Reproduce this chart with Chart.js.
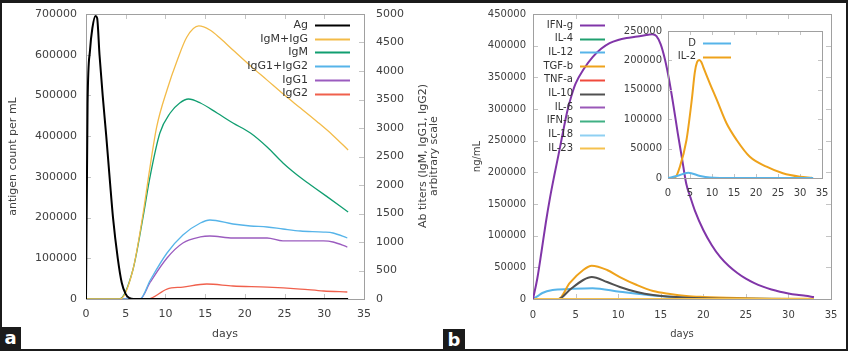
<!DOCTYPE html>
<html>
<head>
<meta charset="utf-8">
<script src="https://cdn.jsdelivr.net/npm/chart.js@4.4.1/dist/chart.umd.min.js"></script>
<style>
  body{margin:0;background:#fff}
  #fig{position:relative;width:848px;height:351px;overflow:hidden;background:#fff}
  #fig canvas{position:absolute}
  #frame{position:absolute;left:0;top:0;right:0;bottom:0;border:2px solid #1b1b1b;border-top-width:3px;pointer-events:none}
  .tag{position:absolute;background:#1b1b1b;color:#fff;font:bold 18px "DejaVu Sans",sans-serif;text-align:center}
</style>
</head>
<body>
<div id="fig">
  <canvas id="chartA" width="440" height="351" style="left:0;top:0"></canvas>
  <canvas id="chartB" width="408" height="351" style="left:440px;top:0"></canvas>
  <canvas id="chartInset" width="240" height="200" style="left:600px;top:20px"></canvas>
  <div class="tag" style="left:0;top:327px;width:21px;height:24px;line-height:22px">a</div>
  <div class="tag" style="left:443px;top:329px;width:22px;height:22px;line-height:21px">b</div>
  <div id="frame"></div>
</div>
<script>
// ---- panel a: antigen and antibody titers ----
const agDays   = [0, 0.2, 0.5, 0.8, 1.2, 1.4, 1.7, 2.1, 2.55, 3.0, 3.4, 4.0, 4.5, 5.0, 5.5, 6, 33];
const agCount  = [0, 480000, 610000, 665000, 695000, 690000, 600000, 500000, 400000, 292000, 200000, 100000, 40000, 12000, 2000, 0, 0];

const igmIggDays = [0, 4.3, 5.9, 7.2, 7.9, 8.9, 10.2, 11.5, 12.7, 14.2, 15.6, 17.0, 18.5, 20.7, 22.8, 24.8, 27.0, 29.1, 31.1, 33.0];
const igmIgg     = [0, 0, 509, 1509, 2170, 3018, 3667, 4193, 4596, 4790, 4719, 4560, 4368, 4090, 3840, 3600, 3350, 3110, 2870, 2614];

const igmDays = [0, 4.2, 5.9, 7.2, 8.0, 9.3, 10.6, 11.8, 12.9, 14.4, 16.5, 18.5, 20.7, 22.8, 24.8, 26.0, 27.0, 28.2, 30.3, 33.0];
const igm     = [0, 0, 509, 1450, 2100, 2912, 3263, 3439, 3509, 3439, 3263, 3088, 2912, 2667, 2386, 2240, 2130, 2010, 1800, 1526];

const iggDays = [0, 6.8, 8.1, 10.2, 12.2, 14.4, 15.6, 18.5, 20.7, 22.8, 24.8, 27.0, 29.9, 31.1, 32.9];
const igg     = [0, 0, 333, 807, 1123, 1333, 1386, 1316, 1281, 1263, 1228, 1193, 1175, 1158, 1070];

const igg1Days = [0, 6.8, 8.1, 10.2, 12.2, 14.4, 15.6, 18.5, 22.8, 24.8, 27.0, 29.9, 31.1, 32.9];
const igg1     = [0, 0, 298, 719, 982, 1088, 1105, 1070, 1070, 1018, 1018, 1018, 1000, 912];

const igg2Days = [0, 7.8, 10.2, 12.2, 15.2, 18.5, 22.8, 27.0, 29.9, 32.9];
const igg2     = [0, 0, 175, 210, 263, 228, 210, 175, 140, 123];

// ---- panel b: cytokines ----
const ifngDays = [0, 0.5, 1, 1.5, 2, 2.5, 3, 3.5, 4, 4.5, 5, 6, 7, 8, 9, 10, 11, 12, 13, 14,
                  14.5, 15, 15.5, 16, 16.5, 17, 17.5, 18, 18.5, 19, 20, 21, 22, 23, 24, 25, 26, 27, 28, 29, 30, 31, 32, 33];
const ifng     = [0, 32000, 75000, 120000, 160000, 195000, 228000, 262000, 295000, 320000, 340000, 364000, 382000, 395000, 404000, 409000, 412000, 414000, 416000, 418000,
                  415000, 402000, 378000, 345000, 305000, 262000, 222000, 182000, 160000, 140000, 109000, 85000, 66000, 52000, 41000, 32000, 25000, 19500, 15000, 11500, 8800, 6700, 5000, 3000];

const tgfbDays = [0, 3.0, 4.3, 5.9, 6.9, 8.7, 10.2, 12.2, 14.1, 16.1, 18.0, 20.0, 24.0, 28, 33];
const tgfb     = [0, 0, 25000, 45800, 52500, 45800, 34700, 22100, 12600, 7900, 4700, 3200, 1500, 500, 200];

const il10Days = [0, 3.0, 4.3, 5.9, 6.9, 8.7, 10.2, 12.2, 14.1, 18.0, 22, 33];
const il10     = [0, 0, 14200, 30000, 34700, 26800, 19000, 11000, 6300, 2000, 500, 0];

const il12Days = [0, 0.5, 1.1, 2.3, 4.3, 7.0, 10.2, 14.1, 18.0, 22, 26, 33];
const il12     = [0, 4000, 9500, 14200, 15800, 17000, 11500, 5500, 2000, 800, 300, 100];

const flatDays = [0, 33];
const flat     = [0, 0];

// ---- inset ----
const il2Days = [0, 1.6, 2.7, 4.2, 5.4, 6.1, 6.6, 7.1, 7.6, 8.0, 9.5, 11.1, 13.3, 15.6, 18.6, 22.4, 26.1, 30.0, 32.7];
const il2     = [0, 1000, 19200, 64600, 132700, 180000, 197000, 200700, 197000, 189000, 161000, 132700, 93000, 64600, 36000, 19200, 8000, 2200, 500];
const dDays   = [0, 2.0, 4.6, 7.3, 9.5, 12, 33];
const dVals   = [0, 3400, 9000, 3400, 700, 200, 0];

const FONT = '"DejaVu Sans", sans-serif';
Chart.defaults.font.family = FONT;
Chart.defaults.color = '#404040';

function pts(days, vals){ return days.map((x, i) => ({x: x, y: vals[i]})); }
function line(label, days, vals, color, width, axis){
  return {label: label, data: pts(days, vals), borderColor: color, backgroundColor: color,
          borderWidth: width, pointRadius: 0, cubicInterpolationMode: 'monotone', yAxisID: axis || 'y'};
}
function plain(v){ return String(v); }

// gnuplot-like frame, inward ticks, key and extra titles
const gnuFrame = {
  id: 'gnuFrame',
  beforeDatasetsDraw(chart, args, o){
    const ctx = chart.ctx, a = chart.chartArea, L = o.tick || 5;
    ctx.save();
    ctx.lineWidth = 1;
    ctx.strokeStyle = '#c4c4c4';
    ctx.beginPath();
    Object.values(chart.scales).forEach(s => {
      s.ticks.forEach(t => {
        const p = Math.round(s.getPixelForValue(t.value)) + 0.5;
        if (s.isHorizontal()){
          if (p < a.left + 2 || p > a.right - 2) return;
          ctx.moveTo(p, a.bottom); ctx.lineTo(p, a.bottom - L);
          ctx.moveTo(p, a.top); ctx.lineTo(p, a.top + L);
        } else {
          if (p < a.top + 2 || p > a.bottom - 2) return;
          if (s.position === 'left' || o.mirrorY){ ctx.moveTo(a.left, p); ctx.lineTo(a.left + L, p); }
          if (s.position === 'right' || o.mirrorY){ ctx.moveTo(a.right, p); ctx.lineTo(a.right - L, p); }
        }
      });
    });
    ctx.stroke();
    ctx.strokeStyle = '#a0a0a0';
    ctx.strokeRect(Math.round(a.left) + 0.5, Math.round(a.top) + 0.5, Math.round(a.right - a.left), Math.round(a.bottom - a.top));
    ctx.restore();
  },
  afterDraw(chart, args, o){
    const ctx = chart.ctx, k = o.key;
    ctx.save();
    if (k){
      ctx.font = k.size + 'px ' + FONT;
      ctx.textAlign = 'right';
      ctx.textBaseline = 'middle';
      chart.data.datasets.forEach((d, i) => {
        const y = k.y + i * k.dy;
        ctx.fillStyle = '#333';
        ctx.fillText(d.label, k.x, y);
        ctx.strokeStyle = d.borderColor;
        ctx.lineWidth = 2;
        ctx.beginPath();
        ctx.moveTo(k.x + 7, Math.round(y) + 0.5);
        ctx.lineTo(k.x + 7 + k.len, Math.round(y) + 0.5);
        ctx.stroke();
      });
    }
    if (o.sideTitle){
      const t = o.sideTitle;
      ctx.font = t.size + 'px ' + FONT;
      ctx.fillStyle = '#404040';
      ctx.textAlign = 'center';
      ctx.textBaseline = 'middle';
      t.lines.forEach((txt, i) => {
        ctx.save();
        ctx.translate(t.x[i], t.y);
        ctx.rotate(-Math.PI / 2);
        ctx.fillText(txt, 0, 0);
        ctx.restore();
      });
    }
    ctx.restore();
  }
};

function xAxis(size, pad, h, titlePad, withTitle){
  return {
    type: 'linear', min: 0, max: 35,
    grid: {display: false, drawTicks: false}, border: {display: false},
    ticks: {stepSize: 5, padding: pad, font: {size: size}, maxRotation: 0, autoSkip: false, callback: plain},
    title: {display: withTitle, text: 'days', font: {size: size}, padding: {top: 0, bottom: titlePad}},
    afterFit(s){ s.height = h; s.paddingLeft = 0; s.paddingRight = 0; }
  };
}
function yAxis(pos, max, step, size, pad, w, title, titlePad){
  return {
    type: 'linear', position: pos, min: 0, max: max,
    grid: {display: false, drawTicks: false}, border: {display: false},
    ticks: {stepSize: step, padding: pad, font: {size: size}, autoSkip: false, callback: plain},
    title: {display: !!title, text: title || '', font: {size: size}, padding: {top: titlePad || 0, bottom: 0}},
    afterFit(s){ s.width = w; s.paddingTop = 0; s.paddingBottom = 0; }
  };
}

const common = {responsive: false, animation: false, devicePixelRatio: 1};

new Chart(document.getElementById('chartA'), {
  type: 'line',
  data: {datasets: [
    line('Ag', agDays, agCount, '#000000', 2, 'y'),
    line('IgM+IgG', igmIggDays, igmIgg, '#f3bb48', 1.3, 'y2'),
    line('IgM', igmDays, igm, '#109e70', 1.3, 'y2'),
    line('IgG1+IgG2', iggDays, igg, '#56b4e9', 1.3, 'y2'),
    line('IgG1', igg1Days, igg1, '#9b5cbf', 1.3, 'y2'),
    line('IgG2', igg2Days, igg2, '#f0604c', 1.3, 'y2')
  ]},
  options: Object.assign({}, common, {
    layout: {padding: {top: 14, left: 0, right: 0, bottom: 0}},
    scales: {
      x: xAxis(11, 9, 52, 10, true),
      y: yAxis('left', 700000, 100000, 11, 9, 86, 'antigen count per mL', 7),
      y2: yAxis('right', 5000, 500, 11, 12, 76)
    },
    plugins: {
      legend: {display: false}, tooltip: {enabled: false},
      gnuFrame: {
        key: {x: 308, y: 25, dy: 13.7, len: 35, size: 11},
        sideTitle: {lines: ['Ab titers (IgM, IgG1, IgG2)', 'arbitrary scale'], x: [423, 434], y: 156, size: 11}
      }
    }
  }),
  plugins: [gnuFrame]
});

const cytokines = [
  line('IFN-g', ifngDays, ifng, '#8035a8', 2),
  line('IL-4', flatDays, flat, '#20a070', 2),
  line('IL-12', il12Days, il12, '#56b4e9', 2),
  line('TGF-b', tgfbDays, tgfb, '#eea21b', 2),
  line('TNF-a', flatDays, flat, '#f04a3c', 2),
  line('IL-10', il10Days, il10, '#505050', 2),
  line('IL-6', flatDays, flat, '#9a58b8', 2),
  line('IFN-b', flatDays, flat, '#40b084', 2),
  line('IL-18', flatDays, flat, '#8fd0f2', 2),
  line('IL-23', flatDays, flat, '#f5c14e', 2)
];
cytokines.forEach((d, i) => { d.order = -i; });
cytokines[0].order = -100;

new Chart(document.getElementById('chartB'), {
  type: 'line',
  data: {datasets: cytokines},
  options: Object.assign({}, common, {
    layout: {padding: {top: 14, left: 0, right: 17, bottom: 0}},
    scales: {
      x: xAxis(10, 10, 52, 11, true),
      y: yAxis('left', 450000, 50000, 10, 7, 93, 'ng/mL', 31)
    },
    plugins: {
      legend: {display: false}, tooltip: {enabled: false},
      gnuFrame: {mirrorY: true, key: {x: 133, y: 25, dy: 13.7, len: 25, size: 10}}
    }
  }),
  plugins: [gnuFrame]
});

new Chart(document.getElementById('chartInset'), {
  type: 'line',
  data: {datasets: [
    line('D', dDays, dVals, '#56b4e9', 2),
    line('IL-2', il2Days, il2, '#eea21b', 2)
  ]},
  options: Object.assign({}, common, {
    layout: {padding: {top: 11, left: 0, right: 18, bottom: 0}},
    scales: {
      x: xAxis(10, 9, 42, 0, false),
      y: yAxis('left', 250000, 50000, 10, 6, 68)
    },
    plugins: {
      legend: {display: false}, tooltip: {enabled: false},
      gnuFrame: {mirrorY: true, tick: 4, key: {x: 96, y: 23, dy: 13.5, len: 28, size: 10}}
    }
  }),
  plugins: [gnuFrame]
});
</script>
</body>
</html>
